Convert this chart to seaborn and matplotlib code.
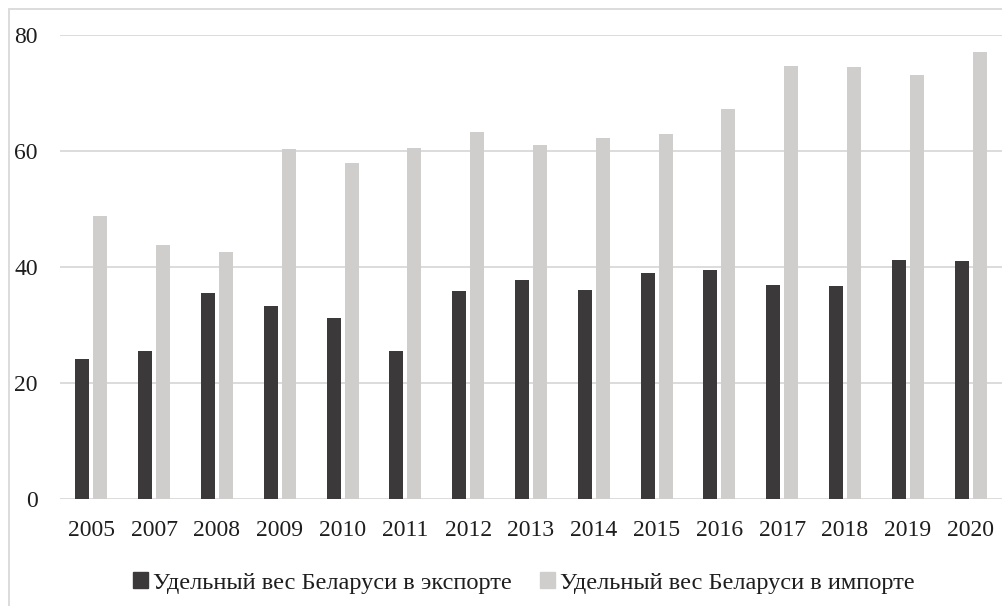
import matplotlib
matplotlib.use("Agg")
import matplotlib.pyplot as plt
import matplotlib.patches as mpatches
import seaborn as sns
import pandas as pd

years = ["2005", "2007", "2008", "2009", "2010", "2011", "2012", "2013",
         "2014", "2015", "2016", "2017", "2018", "2019", "2020"]
export_share = [24.1, 25.6, 35.5, 33.2, 31.2, 25.6, 35.9, 37.8,
                36.0, 38.9, 39.5, 36.9, 36.8, 41.2, 41.1]
import_share = [48.8, 43.8, 42.5, 60.3, 58.0, 60.6, 63.3, 61.0,
                62.2, 63.0, 67.2, 74.6, 74.5, 73.1, 77.0]
series_names = ["Удельный вес Беларуси в экспорте",
                "Удельный вес Беларуси в импорте"]
colors = ["#3b393a", "#cfcecc"]
yticks = [0, 20, 40, 60, 80]

df = pd.DataFrame({
    "year": years * 2,
    "value": export_share + import_share,
    "series": [series_names[0]] * len(years) + [series_names[1]] * len(years),
})

sns.set_theme(style="white")
plt.rcParams["font.family"] = ["Liberation Serif", "DejaVu Serif"]

W, H = 1002, 606
fig = plt.figure(figsize=(W / 100, H / 100), dpi=100)
ax = fig.add_axes([60 / W, (H - 499) / H, (W - 60) / W, (499 - 35) / H])

sns.barplot(data=df, x="year", y="value", hue="series", order=years,
            hue_order=series_names, palette=colors, width=0.572,
            saturation=1, ax=ax, legend=False, zorder=3, linewidth=0)

# narrow bars keeping their centers (gap between the pair)
bw = 0.223
for p in ax.patches:
    c = p.get_x() + p.get_width() / 2
    p.set_width(bw)
    p.set_x(c - bw / 2)

ax.set_xlim(-0.5, len(years) - 0.5)
ax.set_ylim(0, 80)
ax.set_yticks(yticks)
ax.set_yticklabels([str(t) for t in yticks])
ax.grid(axis="y", color="#d9d9d9", linewidth=1.3, zorder=0)
ax.grid(axis="x", visible=False)
for s in ax.spines.values():
    s.set_visible(False)
ax.set_xlabel("")
ax.set_ylabel("")
ax.tick_params(axis="both", length=0, labelsize=17, colors="#1e1e1e")
ax.tick_params(axis="y", pad=16)
ax.tick_params(axis="x", pad=15)

handles = [mpatches.Patch(color=c, label=n) for c, n in zip(colors, series_names)]
fig.legend(handles=handles, loc="center", bbox_to_anchor=(524 / W, 1 - 583 / H),
           ncol=2, frameon=False, fontsize=17.6, handlelength=0.62,
           handleheight=0.62, handletextpad=0.2, columnspacing=1.15,
           labelcolor="#1e1e1e")

# outer chart border (cropped on the right and bottom)
fig.patches.append(mpatches.Rectangle((9 / W, -0.05), 1.1, 1 - 9 / H + 0.05,
                                      transform=fig.transFigure, fill=False,
                                      edgecolor="#d9d9d9", linewidth=1.3))

fig.savefig("out.png", dpi=100)
